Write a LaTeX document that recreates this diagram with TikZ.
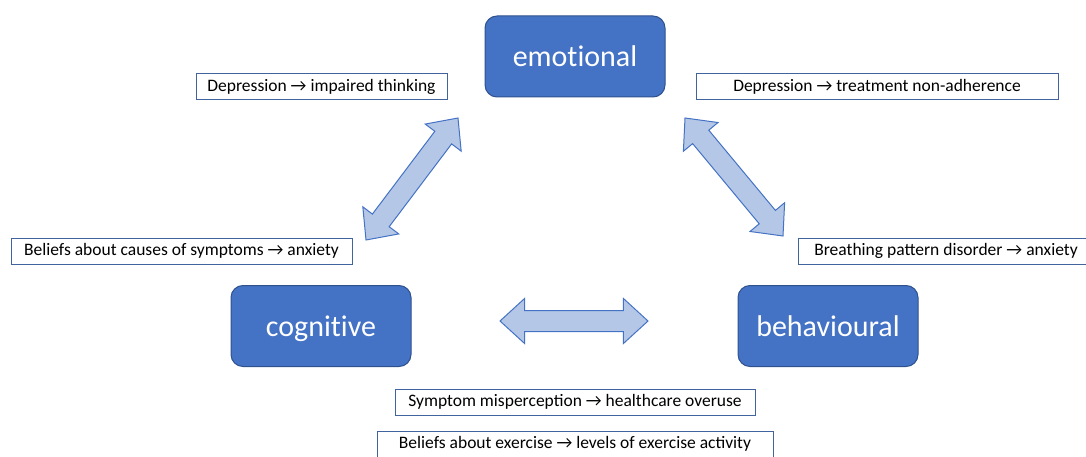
\documentclass[tikz,border=0pt]{standalone}
\usepackage{fontspec}
\setmainfont{Carlito}
\usetikzlibrary{shapes.arrows,calc}
\definecolor{boxblue}{HTML}{4472C4}
\definecolor{boxline}{HTML}{2F528F}
\definecolor{labelline}{HTML}{41649F}
\definecolor{arrowfill}{HTML}{B4C7E7}
\tikzset{
  areabox/.style={draw=boxline,line width=1pt,fill=boxblue,rounded corners=12pt,
    minimum width=180pt,minimum height=81pt,text=white,text height=22pt,text depth=1pt,
    font=\fontsize{30}{34}\selectfont},
  effect/.style={draw=labelline,line width=1pt,fill=white,inner sep=0pt,
    minimum height=26pt,text height=12.5pt,text depth=4pt,font=\fontsize{17.5}{20}\selectfont},
  link/.style={double arrow,draw=boxblue,line width=1pt,fill=arrowfill,inner xsep=0pt,inner ysep=10pt,
    double arrow head extend=12pt,double arrow tip angle=85}
}
\begin{document}
\begin{tikzpicture}[x=1pt,y=-1pt]
    \useasboundingbox (0,0) rectangle (1086,457);
    \node[areabox] (Emo) at (575,56.5) {emot\kern0pt ional};
    \node[areabox] (Cog) at (321,326) {cognit\kern0pt ive};
    \node[areabox] (Beh) at (828,326) {behavioural};
    \node[effect,minimum width=251pt] (L0_0) at (321.5,87) {Depression → impaired thinking};
    \node[effect,minimum width=362pt] (L0_1) at (877,87) {Depression → treatment non-adherence};
    \node[effect,minimum width=341pt] (L1_0) at (181.5,251.5) {Beliefs about causes of symptoms → anxiety};
    \node[effect,minimum width=296pt] (L1_1) at (946,251.5) {Breathing pattern disorder → anxiety};
    \node[effect,minimum width=360pt] (L2_0) at (575,402.5) {Symptom misperception → healthcare overuse};
    \node[effect,minimum width=396pt] (L3_0) at (575,444.5) {Beliefs about exercise → levels of exercise activity};
    % arrow tips
    \coordinate (CE1) at (366,240);
    \coordinate (CE2) at (458,118);
    \coordinate (EB1) at (685,118);
    \coordinate (EB2) at (783,236);
    \coordinate (CB1) at (500,321);
    \coordinate (CB2) at (648,321);
    \foreach \a/\b in {CE1/CE2,EB1/EB2,CB1/CB2}
      \path let \p1=($(\b)-(\a)$), \n1={atan2(\y1,\x1)}, \n2={veclen(\x1,\y1)} in
        node[link,rotate=\n1,minimum height=\n2] at ($(\a)!0.5!(\b)$) {};
\end{tikzpicture}
\end{document}
